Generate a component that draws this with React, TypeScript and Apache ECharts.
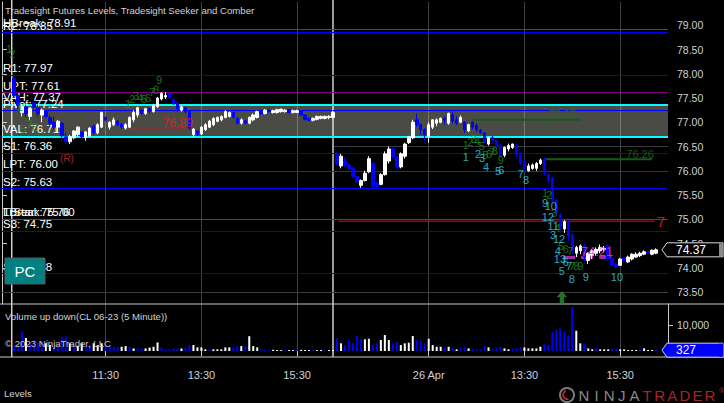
import React, { useEffect, useRef } from "react";
import * as echarts from "echarts";

const FONT = '"Liberation Sans", Arial, sans-serif';
const AXIS_TEXT = "#cdd2da";

// ---- axis ticks ----
const priceTickLabels = [73.5, 74.0, 74.5, 75.0, 75.5, 76.0, 76.5, 77.0, 77.5, 78.0, 78.5, 79.0];
const priceTickMarks = [73.5, 74.0, 74.5, 75.0, 75.5, 76.0, 76.5, 77.0, 77.5, 78.0, 78.5, 79.0, 79.5];
const volumeTickLabels = [10000];
const timeTickLabels = ["11:30", "13:30", "15:30"];
const day2DateLabel = "26 Apr";

// ---- price bars [open, close, low, high] ----
const day1Bars = [
  [77.90, 77.55, 77.50, 77.97], [77.55, 77.35, 77.28, 77.60], [77.20, 77.32, 77.12, 77.38], [77.32, 77.18, 77.10, 77.36],
  [77.12, 77.28, 77.05, 77.30], [77.40, 77.31, 77.28, 77.42], [77.30, 77.18, 77.12, 77.36], [77.15, 77.25, 77.00, 77.28],
  [77.22, 77.12, 77.08, 77.25], [77.10, 76.98, 76.92, 77.15], [77.00, 76.90, 76.85, 77.12], [76.90, 77.02, 76.80, 77.05],
  [76.98, 76.72, 76.62, 77.00], [76.70, 76.60, 76.55, 76.78], [76.60, 76.70, 76.55, 76.74], [76.68, 76.82, 76.65, 76.84],
  [76.75, 76.90, 76.70, 76.92], [76.80, 76.70, 76.65, 76.82], [76.68, 76.80, 76.62, 76.82], [76.72, 76.88, 76.70, 76.90],
  [76.92, 76.78, 76.75, 76.95], [76.78, 76.95, 76.75, 76.98], [76.90, 77.20, 76.88, 77.22], [77.10, 77.05, 77.02, 77.12],
  [76.90, 77.00, 76.85, 77.02], [76.95, 77.05, 76.92, 77.10], [77.02, 76.95, 76.92, 77.05], [76.96, 76.90, 76.86, 76.98],
  [76.88, 76.95, 76.85, 76.98], [76.90, 77.10, 76.88, 77.12], [77.05, 77.20, 77.00, 77.25], [77.15, 77.30, 77.10, 77.32],
  [77.25, 77.18, 77.15, 77.28], [77.18, 77.28, 77.15, 77.30], [77.28, 77.22, 77.18, 77.30], [77.22, 77.35, 77.20, 77.38],
  [77.32, 77.50, 77.30, 77.52], [77.48, 77.60, 77.45, 77.62], [77.52, 77.55, 77.48, 77.62], [77.60, 77.50, 77.48, 77.62],
  [77.48, 77.38, 77.36, 77.50], [77.40, 77.28, 77.22, 77.42], [77.25, 77.32, 77.22, 77.34], [77.30, 77.22, 77.18, 77.32],
  [77.22, 76.88, 76.84, 77.24], [76.75, 76.86, 76.70, 76.88], [76.82, 76.75, 76.72, 76.84], [76.76, 76.90, 76.74, 76.92],
  [76.85, 76.95, 76.82, 76.98], [76.90, 77.02, 76.88, 77.05], [76.95, 77.08, 76.92, 77.10], [77.02, 77.10, 77.00, 77.12],
  [77.05, 77.12, 77.02, 77.14], [77.10, 77.22, 77.08, 77.25], [77.12, 77.20, 77.10, 77.22], [77.20, 77.10, 77.08, 77.22],
  [77.08, 76.98, 76.96, 77.10], [76.98, 77.05, 76.95, 77.08], [77.03, 76.98, 76.96, 77.05], [76.98, 77.10, 76.96, 77.12],
  [77.05, 77.15, 77.02, 77.18], [77.10, 77.22, 77.08, 77.24], [77.22, 77.18, 77.15, 77.24], [77.18, 77.25, 77.16, 77.27],
  [77.25, 77.22, 77.20, 77.26], [77.20, 77.24, 77.18, 77.26], [77.20, 77.26, 77.18, 77.28], [77.22, 77.27, 77.20, 77.28],
  [77.22, 77.25, 77.20, 77.27], [77.26, 77.20, 77.18, 77.27], [77.20, 77.24, 77.18, 77.26], [77.20, 77.24, 77.19, 77.26],
  [77.24, 77.15, 77.13, 77.25], [77.15, 77.06, 77.04, 77.16], [77.08, 77.04, 77.02, 77.10], [77.04, 77.08, 77.02, 77.10],
  [77.06, 77.12, 77.04, 77.14], [77.08, 77.12, 77.06, 77.14], [77.08, 77.12, 77.06, 77.14], [77.10, 77.12, 77.06, 77.15],
  [77.10, 77.20, 77.08, 77.24],
];
const day2Bars = [
  [76.33, 76.15, 76.12, 76.38], [76.10, 76.30, 76.05, 76.35], [76.20, 76.12, 76.08, 76.28], [76.12, 76.05, 76.02, 76.16],
  [76.05, 75.88, 75.85, 76.08], [75.88, 75.78, 75.75, 75.90], [75.70, 75.80, 75.65, 75.82], [75.80, 75.95, 75.78, 76.00],
  [75.98, 76.25, 75.95, 76.30], [76.15, 75.68, 75.60, 76.18], [75.75, 75.68, 75.63, 75.78], [75.72, 75.92, 75.70, 75.95],
  [75.92, 76.35, 75.90, 76.40], [76.20, 76.45, 76.15, 76.50], [76.45, 76.28, 76.25, 76.48], [76.28, 76.08, 76.04, 76.30],
  [76.08, 76.35, 76.05, 76.38], [76.30, 76.55, 76.25, 76.58], [76.58, 76.70, 76.55, 76.72], [76.68, 77.00, 76.65, 77.05],
  [77.05, 76.95, 76.90, 77.18], [76.95, 76.85, 76.75, 76.98], [76.85, 76.74, 76.62, 76.88], [76.70, 76.95, 76.58, 77.00],
  [76.90, 77.05, 76.86, 77.06], [76.98, 77.05, 76.92, 77.08], [77.00, 77.08, 76.98, 77.10], [77.08, 77.04, 76.95, 77.12],
  [76.98, 77.18, 76.95, 77.20], [77.15, 77.02, 76.98, 77.22], [77.05, 76.98, 76.94, 77.12], [77.00, 77.10, 76.98, 77.14],
  [77.00, 76.85, 76.78, 77.02], [76.82, 76.95, 76.80, 76.97], [77.00, 76.90, 76.86, 77.02], [76.94, 76.84, 76.80, 76.98],
  [76.84, 76.78, 76.76, 76.86], [76.78, 76.58, 76.56, 76.80], [76.55, 76.68, 76.52, 76.70], [76.68, 76.62, 76.58, 76.72],
  [76.62, 76.50, 76.48, 76.65], [76.52, 76.30, 76.28, 76.54], [76.32, 76.48, 76.28, 76.50], [76.45, 76.52, 76.40, 76.56],
  [76.48, 76.55, 76.45, 76.56], [76.52, 76.32, 76.28, 76.55], [76.35, 76.15, 76.12, 76.38], [76.20, 76.02, 75.98, 76.22],
  [76.00, 76.10, 75.98, 76.15], [76.05, 76.12, 76.02, 76.15], [76.05, 76.15, 76.00, 76.18], [76.15, 76.22, 76.12, 76.25],
  [76.24, 75.95, 75.90, 76.28], [75.92, 75.80, 75.75, 75.95], [75.85, 75.38, 75.35, 75.88], [75.40, 75.15, 75.10, 75.42],
  [75.10, 74.82, 74.78, 75.12], [74.80, 74.95, 74.72, 74.98], [74.95, 74.65, 74.55, 74.98], [74.68, 74.35, 74.28, 74.72],
  [74.30, 74.42, 74.22, 74.45], [74.35, 74.45, 74.28, 74.48], [74.45, 74.22, 74.14, 74.50], [74.15, 74.30, 74.08, 74.32],
  [74.25, 74.35, 74.18, 74.38], [74.30, 74.38, 74.25, 74.42], [74.35, 74.42, 74.30, 74.48], [74.38, 74.40, 74.32, 74.45],
  [74.45, 74.18, 74.14, 74.50], [74.20, 74.05, 74.02, 74.25], [74.08, 74.02, 73.98, 74.10], [74.05, 74.18, 74.05, 74.20],
  [74.20, 74.15, 74.10, 74.22], [74.12, 74.22, 74.10, 74.25], [74.18, 74.28, 74.15, 74.30], [74.22, 74.28, 74.20, 74.32],
  [74.25, 74.30, 74.22, 74.33], [74.28, 74.33, 74.26, 74.36], [74.33, 74.30, 74.28, 74.35], [74.28, 74.36, 74.26, 74.38],
  [74.30, 74.37, 74.28, 74.40],
];

// ---- volume ----
const day1Volume = [
  2300, 2300, 7400, 5000, 3000, 4000, 3000, 3500, 3000, 2300, 2300, 2300, 5500, 5500, 3000, 2300,
  2000, 3000, 1900, 2300, 3000, 2300, 3000, 2300, 1900, 1650, 1400, 1650, 1900, 1650, 1000, 1000,
  1000, 1000, 1300, 1650, 3300, 1400, 650, 650, 1000, 1000, 1000, 1400, 2300, 2300, 1400, 1400,
  650, 650, 650, 650, 650, 1400, 1400, 1400, 1900, 1900, 1900, 5700, 1900, 1400, 650, 400,
  400, 500, 400, 350, 400, 400, 350, 400, 450, 400, 350, 400, 350, 400, 350, 400, 400,
];
const day1VolumeDir = "BBBWBBBBWWBBBBWBWWBBWWWBBBBWWBWBBWWWWBBBBBWBBWWWWBWWWWWBBWBWWWBBBWWWBWWBWWWBWWBWW";
const day2Volume = [
  4870, 2950, 2300, 4230, 3000, 5770, 4500, 4500, 4700, 2300, 2950, 4230, 6150, 4230, 2950, 3590,
  2300, 2950, 3200, 5770, 4230, 4000, 2950, 4700, 2300, 1650, 1650, 1300, 1650, 1030, 650, 1030,
  1650, 1030, 650, 650, 650, 1920, 1400, 650, 1300, 1650, 1030, 650, 1030, 1030, 1400, 1400,
  1030, 1030, 1030, 1650, 2600, 2300, 7200, 8300, 8700, 7400, 5900, 16800, 7800, 2950, 2950, 1030,
  650, 1100, 650, 650, 650, 900, 900, 650, 650, 385, 385, 385, 650, 1030, 385, 400, 327,
];
const day2VolumeDir = "BWBBBBBWWBBWWWBBWWWWBBBWWWWBWBWBBWBBBBWBBBWWBBBWWWWWBBBBBBBBWWBWWBWWWBBWWWWWBWWWB";

// ---- levels ----
const levelNames = ["HBreak", "R2", "R1", "UPT", "VAH", "Pivot", "VAL", "S1", "LPT", "S2", "LBreak", "TrStar", "S3", "S4", "", ""];
const levelValues = [78.91, 78.85, 77.97, 77.61, 77.37, 77.24, 76.71, 76.36, 76.00, 75.63, 75.00, 75.00, 74.75, 73.88, 73.50, 78.00];
const levelLabelValues = [78.91, 78.85, 77.97, 77.61, 77.37, 77.24, 76.71, 76.36, 76.00, 75.63, 75.00, 75.76, 74.75, 73.88, 0, 0];
const levelColors = ["#ff0000", "#0000ff", "#0000ff", "#800080", "#00ffff", "#0000ff", "#00ffff", "#0000ff", "#800080", "#0000ff", "#008000", "rgba(0,0,0,0)", "#0000ff", "#0000ff", "#3c3c3c", "rgba(0,0,0,0)"];
const valueArea = [76.71, 77.37];

// ---- partial segments [fromSlot, toSlot, price] ----
const segFrom = [31.6, 140.7, 136.2, 118.1, 84.3, 83.0];
const segTo = [47.1, 153.2, 163.0, 145.0, 163.7, 167.0];
const segPrice = [76.88, 74.21, 76.24, 77.05, 74.96, 76.50];
const segColor = ["#c42020", "#a428a4", "#145c14", "#145c14", "#ff0000", "#3c3c3c"];
const segWidth = [1.5, 3, 2, 2, 1, 1];
const segType = ["dotted", "dashed", "solid", "solid", "solid", "solid"];

// ---- count annotations [slot, price, text] ----
const greenCounts = [
  [1.8, 78.51, "1"], [2.6, 78.40, "2"], [4.5, 77.32, "1"], [5.3, 76.87, "5"], [7.0, 76.96, "7"], [8.3, 76.90, "8"],
  [31.6, 77.38, "1"], [32.6, 77.48, "2"], [33.6, 77.54, "3"], [34.6, 77.50, "4"], [35.6, 77.48, "5"], [36.6, 77.50, "6"],
  [37.6, 77.62, "7"], [38.6, 77.67, "8"], [39.4, 77.87, "9"],
  [116.3, 76.53, "1"], [117.4, 76.59, "2"], [118.3, 76.66, "3"], [119.2, 76.62, "4"], [120.3, 76.51, "5"],
  [121.1, 76.33, "5"], [122.1, 76.35, "6"], [122.9, 76.39, "7"], [123.6, 76.41, "8"], [125.1, 76.22, "9"],
  [136.2, 75.54, "1"], [137.2, 75.50, "2"], [138.4, 75.13, "3"], [139.3, 74.82, "4"],
  [140.2, 74.45, "5"], [141.4, 74.39, "6"], [142.5, 74.35, "7"], [143.0, 74.04, "7"], [144.0, 74.04, "8"], [145.0, 74.04, "9"],
];
const cyanCounts = [
  [116.3, 76.29, "1"], [119.4, 76.35, "2"], [120.4, 76.27, "3"], [121.4, 76.08, "4"], [124.4, 76.00, "5"], [125.2, 76.02, "6"],
  [130.1, 75.93, "7"], [131.4, 75.81, "8"], [136.2, 75.34, "9"], [137.6, 75.27, "10"], [136.9, 75.05, "12"],
  [138.2, 74.87, "11"], [138.2, 74.68, "3"], [139.7, 74.59, "12"], [139.4, 74.35, "4"], [139.9, 74.18, "13"],
  [141.4, 74.12, "6"], [142.2, 74.04, "7"], [140.4, 73.93, "5"], [142.9, 73.77, "8"], [146.4, 73.81, "9"], [154.2, 73.81, "10"],
];
// ---- price tags [slot, price, text] ----
const tagSlot = [44.1, 16.3, 149.2, 165.2, 160.0, 140.4];
const tagPrice = [76.99, 76.26, 74.33, 74.95, 76.35, 77.17];
const tagText = ["76.89", "(R)", "74.21", "7", "76.26", "77.07"];
const tagColor = ["#e02424", "#e02424", "#ff33ff", "#ff1a1a", "#1a6e1a", "#1a6e1a"];
const tagSize = [12, 10, 13, 15, 11, 11];
const signalArrow = [140.4, 73.38];
const sessionBreaks = [2.45, 83.0];

const PRE = 3;
const SLOTS = 168;

function timeList(n: number) {
  const out: string[] = [];
  for (let i = 0; i < n; i++) {
    const m = 9 * 60 + 35 + i * 5;
    out.push(String(Math.floor(m / 60)).padStart(2, "0") + ":" + String(m % 60).padStart(2, "0"));
  }
  return out;
}

export default function App() {
  const ref = useRef<HTMLDivElement>(null);
  useEffect(() => {
    document.body.style.margin = "0";
    const chart = echarts.init(ref.current!, null, { renderer: "svg" });
    const t1 = timeList(day1Bars.length);
    const t2 = timeList(day2Bars.length);
    const cats: string[] = [];
    for (let k = 0; k < PRE; k++) cats.push("p|" + k);
    t1.forEach((t) => cats.push("1|" + t));
    t2.forEach((t) => cats.push("2|" + t));
    while (cats.length < SLOTS) cats.push("e|" + cats.length);
    const d2start = PRE + day1Bars.length;

    const showTick = (_i: number, v: string) => timeTickLabels.includes(v.split("|")[1]);
    const fmtTick = (v: string) => {
      const [d, t] = v.split("|");
      return d === "2" && t === timeTickLabels[0] ? day2DateLabel : t;
    };

    const candles: any[] = [];
    day1Bars.forEach((b, i) => candles.push([PRE + i, ...b]));
    day2Bars.forEach((b, i) => candles.push([d2start + i, ...b]));
    const vols: any[] = [];
    day1Volume.forEach((v, i) =>
      vols.push({ value: [PRE + i, v], itemStyle: { color: day1VolumeDir[i] === "B" ? "#0000ff" : "#ffffff" } })
    );
    day2Volume.forEach((v, i) =>
      vols.push({ value: [d2start + i, v], itemStyle: { color: day2VolumeDir[i] === "B" ? "#0000ff" : "#ffffff" } })
    );

    const segSeries = segFrom.map((f, i) => ({
      type: "line",
      xAxisIndex: 2,
      yAxisIndex: 0,
      data: [[f, segPrice[i]], [segTo[i], segPrice[i]]],
      showSymbol: false,
      silent: true,
      z: 2,
      lineStyle: { color: segColor[i], width: segWidth[i], type: segType[i] },
    }));

    const countSeries = (arr: any[], color: string) => ({
      type: "scatter",
      xAxisIndex: 2,
      yAxisIndex: 0,
      symbolSize: 1,
      silent: true,
      z: 8,
      itemStyle: { color: "rgba(0,0,0,0)" },
      data: arr,
      label: {
        show: true,
        position: "inside",
        formatter: (p: any) => p.value[2],
        color,
        fontSize: 11,
        fontFamily: FONT,
      },
    });

    const option: any = {
      animation: false,
      backgroundColor: "#000000",
      textStyle: { fontFamily: FONT },
      grid: [
        { left: 2, right: 56, top: 2, height: 302 },
        { left: 2, right: 56, top: 304, height: 53 },
      ],
      xAxis: [
        {
          type: "category", gridIndex: 0, data: cats, boundaryGap: false,
          axisLine: { show: false }, axisTick: { show: false }, axisLabel: { show: false },
          splitLine: { show: true, interval: showTick, lineStyle: { color: "rgba(255,255,255,0.25)", width: 1 } },
        },
        {
          type: "category", gridIndex: 1, data: cats, boundaryGap: false,
          axisLine: { show: false },
          axisTick: { show: true, interval: showTick, length: 5, lineStyle: { color: "#c8c8c8" } },
          axisLabel: { show: true, interval: showTick, formatter: fmtTick, color: AXIS_TEXT, fontSize: 11, margin: 12, fontFamily: FONT },
          splitLine: { show: true, interval: showTick, lineStyle: { color: "rgba(255,255,255,0.25)", width: 1 } },
        },
        { type: "value", gridIndex: 0, min: 0, max: SLOTS - 1, show: false },
      ],
      yAxis: [
        {
          type: "value", gridIndex: 0, position: "right", min: 73.253, max: 79.48, scale: true,
          axisLine: { show: true, lineStyle: { color: "#c8c8c8" } },
          axisTick: { show: true, length: 5, customValues: priceTickMarks, lineStyle: { color: "#c8c8c8" } },
          axisLabel: { customValues: priceTickLabels, formatter: (v: number) => v.toFixed(2), color: AXIS_TEXT, fontSize: 10.5, margin: 9, fontFamily: FONT },
          splitLine: { show: false },
        },
        {
          type: "value", gridIndex: 1, position: "right", min: -2300, max: 18100,
          axisLine: { show: true, lineStyle: { color: "#c8c8c8" } },
          axisTick: { show: true, length: 5, customValues: volumeTickLabels, lineStyle: { color: "#c8c8c8" } },
          axisLabel: { customValues: volumeTickLabels, color: AXIS_TEXT, fontSize: 10.5, margin: 9, fontFamily: FONT },
          splitLine: { show: false },
        },
      ],
      series: [
        {
          type: "line", xAxisIndex: 0, yAxisIndex: 0, data: [], z: 0, silent: true,
          markArea: {
            silent: true,
            itemStyle: { color: "rgba(250,247,233,0.3)" },
            data: [[{ yAxis: valueArea[0] }, { yAxis: valueArea[1] }]],
          },
        },
        {
          type: "line", xAxisIndex: 0, yAxisIndex: 0, data: [], z: 2, silent: true,
          markLine: {
            silent: true, symbol: ["none", "none"], animation: false,
            data: levelValues.map((v, i) => ({
              yAxis: v,
              lineStyle: { color: levelColors[i], width: levelColors[i] === "#00ffff" ? 2 : 1, type: "solid" },
              label: {
                show: levelNames[i] !== "",
                position: "insideStartTop",
                distance: 1,
                formatter: levelNames[i] + ": " + levelLabelValues[i].toFixed(2),
                color: "#ffffff",
                fontSize: 11.5,
                fontFamily: FONT,
              },
            })),
          },
        },
        ...segSeries,
        {
          type: "candlestick", xAxisIndex: 0, yAxisIndex: 0, z: 5, barWidth: 3,
          encode: { x: 0, y: [1, 2, 3, 4] },
          data: candles,
          itemStyle: { color: "#ffffff", color0: "#0000ff", borderColor: "#ffffff", borderColor0: "#0000ff", borderWidth: 1 },
        },
        countSeries(greenCounts, "#1f8f1f"),
        countSeries(cyanCounts, "#33d6ee"),
        {
          type: "scatter", xAxisIndex: 2, yAxisIndex: 0, symbolSize: 1, silent: true, z: 9,
          itemStyle: { color: "rgba(0,0,0,0)" },
          data: tagSlot.map((s, i) => ({
            value: [s, tagPrice[i]],
            name: tagText[i],
            label: { show: true, position: "inside", formatter: "{b}", color: tagColor[i], fontSize: tagSize[i], fontFamily: FONT },
          })),
        },
        {
          type: "scatter", xAxisIndex: 2, yAxisIndex: 0, silent: true, z: 9,
          symbol: "path://M5,0 L10,6 L7,6 L7,13 L3,13 L3,6 L0,6 Z",
          symbolSize: [11, 13],
          itemStyle: { color: "#2e8b2e" },
          data: [signalArrow],
        },
        {
          type: "bar", xAxisIndex: 1, yAxisIndex: 1, barWidth: 2, z: 5,
          encode: { x: 0, y: 1 },
          data: vols,
        },
      ],
    };
    chart.setOption(option);

    const lastClose = day2Bars[day2Bars.length - 1][1];
    const lastVol = day2Volume[day2Volume.length - 1];
    const py = chart.convertToPixel({ yAxisIndex: 0 }, lastClose) as number;
    const vy = chart.convertToPixel({ yAxisIndex: 1 }, lastVol) as number;
    const sx = sessionBreaks.map((s) => chart.convertToPixel({ xAxisIndex: 2 }, s) as number);

    const marker = (y: number, fill: string, text: string, edge: string) => [
      {
        type: "polygon", z: 100,
        shape: { points: [[662, y], [667, y - 7], [723, y - 7], [723, y + 7], [667, y + 7]] },
        style: { fill, stroke: "#d8d8d8", lineWidth: 1 },
      },
      { type: "rect", z: 101, shape: { x: 719, y: y - 6.5, width: 4, height: 13 }, style: { fill: edge } },
      {
        type: "text", z: 102, x: 676, y,
        style: { text, fill: "#ffffff", font: `12px ${FONT}`, verticalAlign: "middle", align: "left" },
      },
    ];

    const logoLetters = "NINJATRADER".split("");
    const graphic: any[] = [
      ...sx.map((x) => ({ type: "line", z: 3, shape: { x1: x, y1: 0, x2: x, y2: 357 }, style: { stroke: "#ffffff", lineWidth: 1.2 } })),
      { type: "line", z: 4, shape: { x1: 0, y1: 304, x2: 724, y2: 304 }, style: { stroke: "#c8c8c8", lineWidth: 1 } },
      { type: "line", z: 4, shape: { x1: 0, y1: 357, x2: 724, y2: 357 }, style: { stroke: "#c8c8c8", lineWidth: 1 } },
      { type: "text", z: 50, x: 5, y: 10, style: { text: "Tradesight Futures Levels, Tradesight Seeker and Comber", fill: "#d2d2d2", font: `9.6px ${FONT}`, verticalAlign: "middle" } },
      { type: "text", z: 50, x: 5, y: 316, style: { text: "Volume up down(CL 06-23 (5 Minute))", fill: "#d2d2d2", font: `9.6px ${FONT}`, verticalAlign: "middle" } },
      { type: "text", z: 50, x: 5, y: 343, style: { text: "© 2023 NinjaTrader, LLC", fill: "#c8c8c8", font: `9.6px ${FONT}`, verticalAlign: "middle" } },
      { type: "text", z: 50, x: 4, y: 393, style: { text: "Levels", fill: "#d2d2d2", font: `9.6px ${FONT}`, verticalAlign: "middle" } },
      { type: "rect", z: 60, shape: { x: 5, y: 258, width: 40, height: 26 }, style: { fill: "#008080", stroke: "#5a5a5a", lineWidth: 1 } },
      { type: "text", z: 61, x: 25, y: 271, style: { text: "PC", fill: "#ffffff", font: `15px ${FONT}`, align: "center", verticalAlign: "middle" } },
      { type: "circle", z: 50, shape: { cx: 567, cy: 395, r: 7 }, style: { fill: "none", stroke: "#7a7a7a", lineWidth: 2 } },
      { type: "arc", z: 51, shape: { cx: 567, cy: 395, r: 4, startAngle: 1.2, endAngle: 4.5 }, style: { fill: "none", stroke: "#b02020", lineWidth: 2 } },
      ...logoLetters.map((ch, i) => ({
        type: "text", z: 50, x: 584 + i * 12.6, y: 395,
        style: { text: ch, fill: i < 5 ? "#8a8a8a" : "#a82424", font: `15px ${FONT}`, align: "center", verticalAlign: "middle" },
      })),
      { type: "text", z: 50, x: 719, y: 390, style: { text: "®", fill: "#a82424", font: `8px ${FONT}`, verticalAlign: "middle" } },
      ...marker(py, "#000000", lastClose.toFixed(2), "#8a8a8a"),
      ...marker(vy, "#0000ff", String(lastVol), "#0000ff"),
    ];
    chart.setOption({ graphic });

    return () => chart.dispose();
  }, []);

  return <div ref={ref} style={{ position: "fixed", left: 0, top: 0, width: 724, height: 403 }} />;
}
